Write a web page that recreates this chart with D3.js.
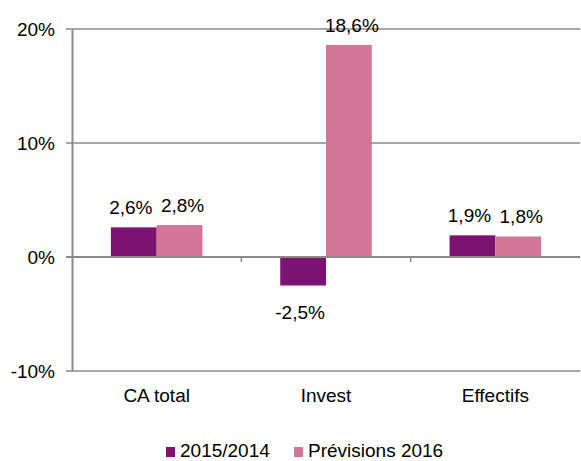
<!DOCTYPE html>
<html>
<head>
<meta charset="utf-8">
<script src="https://cdn.jsdelivr.net/npm/d3@7"></script>
<style>
  body { margin: 0; background: #fff; }
  svg text { font-family: "Liberation Sans", Arial, sans-serif; fill: #000; }
</style>
</head>
<body>
<div id="chart"></div>
<script>
  var categories = ["CA total", "Invest", "Effectifs"],
      seriesNames = ["2015/2014", "Prévisions 2016"],
      values2015 = [2.6, -2.5, 1.9],
      values2016 = [2.8, 18.6, 1.8],
      yTicks = [-10, 0, 10, 20],
      colors = ["#7D1272", "#D37597"];

  var width = 581, height = 461,
      margin = { top: 29, right: 1, bottom: 90, left: 72 },
      fontSize = 19;

  var svg = d3.select("#chart").append("svg")
      .attr("width", width)
      .attr("height", height);

  var x = d3.scaleBand()
      .domain(categories)
      .range([margin.left, width - margin.right])
      .paddingInner(0)
      .paddingOuter(0);

  var x1 = d3.scaleBand()
      .domain(seriesNames)
      .range([0, x.bandwidth()])
      .paddingInner(0)
      .paddingOuter(0.85);

  var y = d3.scaleLinear()
      .domain([-10, 20])
      .range([height - margin.bottom, margin.top]);

  var grey = "#898989";

  // gridlines
  svg.append("g").selectAll("line")
      .data(yTicks)
      .enter().append("line")
        .attr("x1", margin.left - 6)
        .attr("x2", width - margin.right)
        .attr("y1", function(d) { return y(d); })
        .attr("y2", function(d) { return y(d); })
        .style("stroke", grey)
        .style("stroke-width", 1.5);

  // y axis
  var yAxis = svg.append("g")
      .attr("transform", "translate(" + margin.left + ",0)")
      .call(d3.axisLeft(y).tickValues(yTicks).tickSize(0).tickPadding(17).tickFormat(function(d) { return d + "%"; }));
  yAxis.select(".domain").style("stroke", grey).style("stroke-width", 2);
  yAxis.selectAll("text").style("font-size", fontSize + "px");

  var series = seriesNames.map(function(s, i) {
    return { name: s, color: colors[i], values: i == 0 ? values2015 : values2016 };
  });

  var data = [];
  series.forEach(function(s) {
    s.values.forEach(function(v, j) {
      data.push({ cat: categories[j], name: s.name, color: s.color, value: v });
    });
  });

  svg.append("g").selectAll("rect")
      .data(data)
      .enter().append("rect")
        .attr("x", function(d) { return x(d.cat) + x1(d.name); })
        .attr("width", x1.bandwidth())
        .attr("y", function(d) { return y(Math.max(0, d.value)); })
        .attr("height", function(d) { return Math.abs(y(d.value) - y(0)); })
        .style("fill", function(d) { return d.color; });

  // zero axis line and category ticks
  svg.append("line")
      .attr("x1", margin.left - 6)
      .attr("x2", width - margin.right)
      .attr("y1", y(0))
      .attr("y2", y(0))
      .style("stroke", grey)
      .style("stroke-width", 2);

  svg.append("g").selectAll("line")
      .data(categories.slice(1))
      .enter().append("line")
        .attr("x1", function(d) { return x(d); })
        .attr("x2", function(d) { return x(d); })
        .attr("y1", y(0))
        .attr("y2", y(0) + 5)
        .style("stroke", grey)
        .style("stroke-width", 1.5);

  // value labels (pairs pushed slightly apart like the original)
  svg.append("g").selectAll("text")
      .data(data)
      .enter().append("text")
        .attr("x", function(d) {
          var shift = d.name == seriesNames[0] ? -3 : 3;
          return x(d.cat) + x1(d.name) + x1.bandwidth() / 2 + shift;
        })
        .attr("y", function(d) { return d.value >= 0 ? y(d.value) - 13 : y(d.value) + 33; })
        .attr("text-anchor", "middle")
        .style("font-size", fontSize + "px")
        .text(function(d) { return String(d.value.toFixed(1)).replace(".", ",") + "%"; });

  // category labels
  svg.append("g").selectAll("text")
      .data(categories)
      .enter().append("text")
        .attr("x", function(d) { return x(d) + x.bandwidth() / 2; })
        .attr("y", y(-10) + 31)
        .attr("text-anchor", "middle")
        .style("font-size", fontSize + "px")
        .text(function(d) { return d; });

  // legend
  var legendX = [166, 294];
  var legend = svg.append("g").selectAll("g")
      .data(series)
      .enter().append("g")
        .attr("transform", function(d, i) { return "translate(" + legendX[i] + ",447)"; });
  legend.append("rect")
      .attr("width", 9)
      .attr("height", 10)
      .style("fill", function(d) { return d.color; });
  legend.append("text")
      .attr("x", 14)
      .attr("y", 10)
      .style("font-size", fontSize + "px")
      .text(function(d) { return d.name; });
</script>
</body>
</html>
